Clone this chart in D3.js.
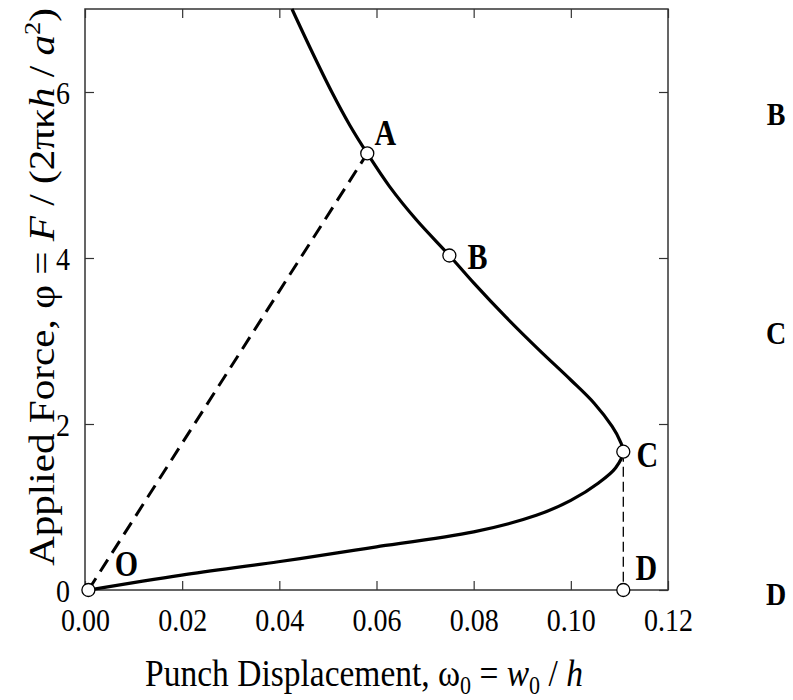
<!DOCTYPE html>
<html>
<head>
<meta charset="utf-8">
<script src="https://cdn.jsdelivr.net/npm/d3@7"></script>
<style>
  body { margin: 0; background: #fff; }
  svg text { font-family: "Liberation Serif", "Times New Roman", serif; }
</style>
</head>
<body>
<div id="container"></div>
<script>
/* CONSTANTS AND GLOBALS */
const width = 793,
  height = 700,
  margin = {top: 9, bottom: 110, left: 85, right: 125},
  stretch = 1.16   // the source figure's lettering is drawn a little taller than wide

/* DATA */
// load-displacement curve, traced from O round the turning point C and up past A
const curveX = [0.0007, 0.0199, 0.0398, 0.0556, 0.0600, 0.0800, 0.0929, 0.1000, 0.1057, 0.1092,
  0.1108, 0.1101, 0.1085, 0.1048, 0.1000, 0.0935, 0.0866, 0.0800, 0.0750, 0.0682, 0.0627,
  0.0581, 0.0545, 0.0508, 0.0466, 0.0426]
const curveY = [0.00, 0.18, 0.34, 0.48, 0.52, 0.70, 0.90, 1.08, 1.29, 1.47,
  1.666, 1.80, 1.97, 2.25, 2.53, 2.89, 3.29, 3.70, 4.03, 4.46, 4.86,
  5.26, 5.60, 6.00, 6.50, 7.00]

const pointNames = ["O", "A", "B", "C", "D"]
const pointX = [0.0007, 0.0581, 0.0750, 0.1108, 0.1108]
const pointY = [0, 5.26, 4.03, 1.666, 0]

const xTicks = [0, 0.02, 0.04, 0.06, 0.08, 0.10, 0.12]
const yTicks = [0, 2, 4, 6]

// stray labels sitting to the right of the plot, with the heights they sit at
const strayNames = ["B", "C", "D"]
const strayY = [5.74, 3.10, -0.04]

const curveData = curveX.map((x, i) => ({x: x, y: curveY[i]}))
const points = pointNames.map((n, i) => ({name: n, x: pointX[i], y: pointY[i]}))
const byName = {}
points.forEach(p => byName[p.name] = p)

/* SCALES */
const xScale = d3.scaleLinear()
  .domain([0, 0.12])
  .range([margin.left, width - margin.right])

const yScale = d3.scaleLinear()
  .domain([0, 7])
  .range([height - margin.bottom, margin.top])

/* SVG */
const svg = d3.select("#container")
  .append("svg")
  .attr("width", width)
  .attr("height", height)

// AXES (ticks point inward, mirrored on top and right)
const xAxis = d3.axisBottom(xScale).tickValues(xTicks).tickFormat(d3.format(".2f"))
  .tickSizeInner(-9).tickSizeOuter(0)
const yAxis = d3.axisLeft(yScale).tickValues(yTicks).tickFormat(d3.format("d"))
  .tickSizeInner(-9).tickSizeOuter(0)
const xTop = d3.axisTop(xScale).tickValues(xTicks).tickFormat("")
  .tickSizeInner(-9).tickSizeOuter(0)
const yRight = d3.axisRight(yScale).tickValues(yTicks).tickFormat("")
  .tickSizeInner(-9).tickSizeOuter(0)

const gx = svg.append("g")
  .attr("transform", `translate(0, ${height - margin.bottom})`)
  .call(xAxis)
const gy = svg.append("g")
  .attr("transform", `translate(${margin.left}, 0)`)
  .call(yAxis)
svg.append("g").attr("transform", `translate(0, ${margin.top})`).call(xTop)
svg.append("g").attr("transform", `translate(${width - margin.right}, 0)`).call(yRight)

svg.selectAll(".domain").remove()
svg.selectAll(".tick line").attr("stroke", "#333").attr("stroke-width", 1.2)

gx.selectAll(".tick text")
  .attr("y", 0).attr("dy", null)
  .attr("transform", `translate(0, 41) scale(1, ${stretch})`)
gy.selectAll(".tick text")
  .attr("x", 0).attr("dy", null)
  .attr("transform", `translate(-15, 11) scale(1, ${stretch})`)
svg.selectAll(".tick text")
  .attr("font-size", 28)
  .attr("fill", "#000")
  .style("font-family", "'Liberation Serif', serif")

// frame
svg.append("rect")
  .attr("x", margin.left)
  .attr("y", margin.top)
  .attr("width", width - margin.left - margin.right)
  .attr("height", height - margin.top - margin.bottom)
  .attr("fill", "none")
  .attr("stroke", "#333")
  .attr("stroke-width", 1.5)

// dashed guide lines
const pO = byName["O"], pA = byName["A"], pC = byName["C"], pD = byName["D"]
svg.append("line")
  .attr("x1", xScale(pO.x)).attr("y1", yScale(pO.y))
  .attr("x2", xScale(pA.x)).attr("y2", yScale(pA.y))
  .attr("stroke", "#000")
  .attr("stroke-width", 3)
  .attr("stroke-dasharray", "14,8")

svg.append("line")
  .attr("x1", xScale(pC.x)).attr("y1", yScale(pC.y))
  .attr("x2", xScale(pD.x)).attr("y2", yScale(pD.y))
  .attr("stroke", "#000")
  .attr("stroke-width", 1.3)
  .attr("stroke-dasharray", "10,5")

// main curve
const line = d3.line()
  .x(d => xScale(d.x))
  .y(d => yScale(d.y))
  .curve(d3.curveCatmullRom.alpha(0.5))

svg.append("path")
  .attr("d", line(curveData))
  .attr("fill", "none")
  .attr("stroke", "#000")
  .attr("stroke-width", 3.2)

// markers
svg.selectAll("circle.pt")
  .data(points)
  .join("circle")
  .attr("class", "pt")
  .attr("cx", d => xScale(d.x))
  .attr("cy", d => yScale(d.y))
  .attr("r", 6.5)
  .attr("fill", "#fff")
  .attr("stroke", "#000")
  .attr("stroke-width", 1.3)

// point labels
const labelOffset = {
  O: [38, -26],
  A: [18, -21],
  B: [28, 1],
  C: [24, 3],
  D: [23, -22]
}
svg.selectAll("text.pt-label")
  .data(points)
  .join("text")
  .attr("class", "pt-label")
  .attr("transform", d => `translate(${xScale(d.x) + labelOffset[d.name][0]}, ${yScale(d.y) + labelOffset[d.name][1]}) scale(1, ${stretch})`)
  .attr("dy", "0.35em")
  .attr("text-anchor", "middle")
  .attr("font-size", 30)
  .attr("font-weight", "bold")
  .text(d => d.name)

svg.selectAll("text.stray")
  .data(strayNames)
  .join("text")
  .attr("class", "stray")
  .attr("transform", (d, i) => `translate(776, ${yScale(strayY[i])}) scale(1, ${stretch})`)
  .attr("dy", "0.35em")
  .attr("text-anchor", "middle")
  .attr("font-size", 28)
  .attr("font-weight", "bold")
  .text(d => d)

// axis titles
const xLabel = svg.append("text")
  .attr("transform", `translate(364, 686) scale(1, ${stretch})`)
  .attr("text-anchor", "middle")
  .attr("font-size", 33.5)
xLabel.append("tspan").text("Punch Displacement, ω")
xLabel.append("tspan").attr("font-size", 22).attr("dy", 7).text("0")
xLabel.append("tspan").attr("dy", -7).text(" = ")
xLabel.append("tspan").attr("font-style", "italic").text("w")
xLabel.append("tspan").attr("font-size", 22).attr("dy", 7).text("0")
xLabel.append("tspan").attr("dy", -7).text(" / ")
xLabel.append("tspan").attr("font-style", "italic").text("h")

const yLabel = svg.append("text")
  .attr("transform", `translate(54, 287) scale(1, ${stretch}) rotate(-90)`)
  .attr("text-anchor", "middle")
  .attr("font-size", 35.5)
yLabel.append("tspan").text("Applied Force,  φ = ")
yLabel.append("tspan").attr("font-style", "italic").text("F")
yLabel.append("tspan").text(" / (2πκ")
yLabel.append("tspan").attr("font-style", "italic").text("h")
yLabel.append("tspan").text(" / ")
yLabel.append("tspan").attr("font-style", "italic").text("a")
yLabel.append("tspan").attr("font-size", 23).attr("dy", -14).text("2")
yLabel.append("tspan").attr("dy", 14).text(")")
</script>
</body>
</html>
